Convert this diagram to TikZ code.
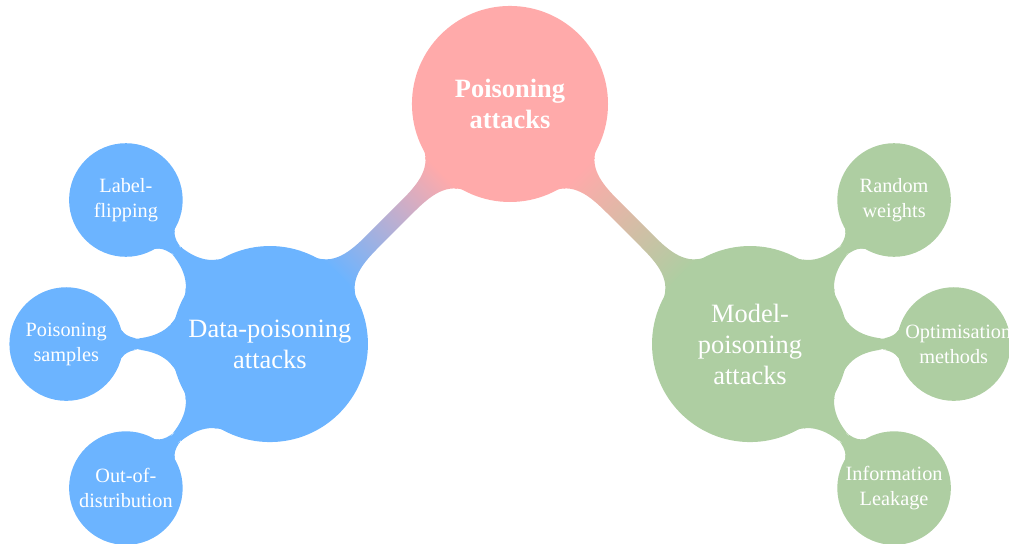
\documentclass[tikz,border=0pt]{standalone}
\usepackage{fontspec}
\setmainfont{Liberation Serif}
\usetikzlibrary{mindmap,calc,backgrounds}
\definecolor{pinkc}{RGB}{255,170,170}
\definecolor{bluec}{RGB}{108,180,255}
\definecolor{greenc}{RGB}{174,206,162}
\begin{document}
\begin{tikzpicture}[mindmap,
  every node/.style={concept, text=white, align=center},
  rootc/.style={concept color=pinkc, minimum size=4cm, text width=3.5cm, font=\fontsize{15.5}{18.2}\selectfont\bfseries},
  lvone/.style={minimum size=4cm, text width=3.5cm, font=\fontsize{15.5}{18.2}\selectfont},
  lvtwo/.style={minimum size=2.3cm, text width=2cm, font=\fontsize{11.9}{14.7}\selectfont}]
\useasboundingbox (0,0) rectangle (20.804,-11.216);
\node[rootc] (root) at (10.515,-2.144) {Poisoning attacks};
\node[lvone, concept color=bluec] (data) at ($(root)+(-135:7)$) {Data-poisoning attacks};
\node[lvone, concept color=greenc] (model) at ($(root)+(-45:7)$) {Model-poisoning attacks};
\node[lvtwo, concept color=bluec] (label) at ($(data)+(135:4.2)$) {Label-flipping};
\node[lvtwo, concept color=bluec] (samples) at ($(data)+(180:4.2)$) {Poisoning samples};
\node[lvtwo, concept color=bluec] (ood) at ($(data)+(225:4.2)$) {Out-of-distribution};
\node[lvtwo, concept color=greenc] (random) at ($(model)+(45:4.2)$) {Random weights};
\node[lvtwo, concept color=greenc] (optim) at ($(model)+(0:4.2)$) {Optimisation methods};
\node[lvtwo, concept color=greenc] (info) at ($(model)+(-45:4.2)$) {Information Leakage};
\begin{pgfonlayer}{background}
\path (root) to[circle connection bar switch color=from (pinkc) to (bluec)] (data);
\path (root) to[circle connection bar switch color=from (pinkc) to (greenc)] (model);
\path (data) to[circle connection bar switch color=from (bluec) to (bluec)] (label);
\path (data) to[circle connection bar switch color=from (bluec) to (bluec)] (samples);
\path (data) to[circle connection bar switch color=from (bluec) to (bluec)] (ood);
\path (model) to[circle connection bar switch color=from (greenc) to (greenc)] (random);
\path (model) to[circle connection bar switch color=from (greenc) to (greenc)] (optim);
\path (model) to[circle connection bar switch color=from (greenc) to (greenc)] (info);
\end{pgfonlayer}
\end{tikzpicture}
\end{document}
